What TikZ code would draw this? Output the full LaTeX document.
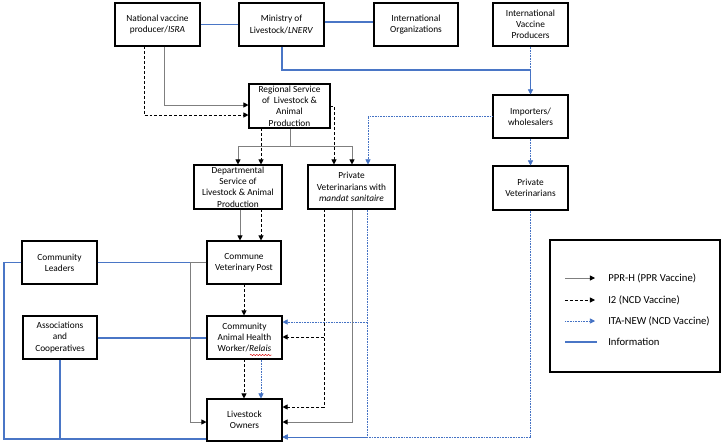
\documentclass[tikz,border=0pt]{standalone}
\usepackage{fontspec}
\setmainfont{Carlito}
\usetikzlibrary{arrows.meta,decorations.pathmorphing}
\definecolor{infoblue}{HTML}{4A76C6}
\definecolor{itablue}{HTML}{4472C4}
\definecolor{pprgray}{HTML}{7F7F7F}
\begin{document}
\begin{tikzpicture}[x=0.75pt,y=-0.75pt,
  box/.style={draw=black, line width=0.8pt, fill=white, align=center, font=\fontsize{7}{8.4}\selectfont, inner sep=0pt},
  wh/.style 2 args={minimum width=#1*0.75pt, minimum height=#2*0.75pt},
  ppr/.style={draw=pprgray, line width=0.7pt, -{Triangle[length=3.8pt,width=3.8pt,color=black]}},
  itwo/.style={draw=black, line width=0.7pt, dash pattern=on 2.2pt off 1.5pt, -{Triangle[length=3.8pt,width=3.8pt]}},
  ita/.style={draw=itablue, line width=0.5pt, dash pattern=on 0.7pt off 0.5pt, -{Triangle[length=3.8pt,width=3.8pt,color=itablue]}},
  info/.style={draw=infoblue, line width=0.85pt},
  legtext/.style={anchor=west, font=\fontsize{8}{9.6}\selectfont, inner sep=0pt}
]
\useasboundingbox (0,0) rectangle (728,444);
\fill[white] (0,0) rectangle (728,444);

% boxes
\node[box, wh={85}{43}] (nvp) at (157.5,24.5) {National vaccine\\producer/\textit{ISRA}};
\node[box, wh={85}{43}] (min) at (281.5,24.5) {Ministry of\\Livestock/\textit{LNERV}};
\node[box, wh={84}{43}] (io) at (416,24.5) {International\\Organizations};
\node[box, wh={75}{43}] (ivp) at (530.5,24.5) {International\\Vaccine\\Producers};
\node[box, wh={75}{43}] (imp) at (530.5,116.5) {Importers/\\wholesalers};
\node[box, wh={75}{44}] (pv) at (530.5,188) {Private\\Veterinarians};
\node[box, wh={81}{44}] (rs) at (289.5,106) {Regional Service\\of\ \ Livestock \&\\Animal\\Production};
\node[box, wh={88}{44}] (ds) at (238,187) {Departmental\\Service of\\Livestock \& Animal\\Production};
\node[box, wh={87}{44}] (pvm) at (351.5,187) {Private\\Veterinarians with\\\textit{mandat sanitaire}};
\node[box, wh={74}{43}] (cvp) at (244,262.5) {Commune\\Veterinary Post};
\node[box, wh={75}{43}] (cl) at (59.5,262.5) {Community\\Leaders};
\node[box, wh={74}{43}] (ac) at (60,337.5) {Associations\\and\\Cooperatives};
\node[box, wh={75}{43}] (cahw) at (244.5,337.5) {Community\\Animal Health\\Worker/\textit{Relais}};
\node[box, wh={75}{42}] (lo) at (244.5,420) {Livestock\\Owners};
\draw[red!85!black, line width=0.35pt, decorate, decoration={snake, amplitude=0.45pt, segment length=2.2pt}] (250,355) -- (272,355);

% information lines
\draw[info] (nvp) -- (min);
\draw[info] (min.east |- 0,22) -- (io.west |- 0,22);
\draw[info] (min.south -| 282,0) -- (282,70) -- (530.5,70) -- (imp.north);
\draw[info] (cl) -- (cvp);
\draw[info] (cl.west) -| (4,439) -- (lo.west |- 0,439);
\draw[info] (ac.south -| 60,0) -- (60,439);
\draw[info] (ac.east |- 0,338) -- (cahw.west |- 0,338);

% ITA-NEW (dotted blue)
\draw[ita] (ivp) -- (imp);
\draw[ita] (imp) -- (pv);
\draw[ita] (imp.west) -| (pvm.north -| 368,0);
\draw[ita] (pvm.south -| 367,0) |- (lo.east |- 0,437);
\draw[ita] (367,322) -- (cahw.east |- 0,322);
\draw[ita] (pv.south) |- (lo.east |- 0,437);
\draw[ita] (cahw.south -| 261,0) -- (lo.north -| 261,0);

% PPR-H (solid grey)
\draw[ppr] (nvp.south -| 164,0) |- (rs.west |- 0,105);
\draw[ppr,-] (rs.south -| 290,0) -- (290,146);
\draw[ppr] (290,146) -| (ds.north -| 238,0);
\draw[ppr] (290,146) -| (pvm.north -| 352,0);
\draw[ppr] (ds.south -| 240,0) -- (cvp.north -| 240,0);
\draw[ppr] (cvp.west) -- (190,262.5) |- (lo.west |- 0,422);
\draw[ppr] (pvm.south -| 352,0) |- (lo.east |- 0,422);

% I2 (dashed black)
\draw[itwo] (nvp.south -| 144,0) |- (rs.west |- 0,115);
\draw[itwo] (rs.south -| 261,0) -- (ds.north -| 261,0);
\draw[itwo] (rs.east |- 0,106) -| (pvm.north -| 334,0);
\draw[itwo] (ds.south -| 261,0) -- (cvp.north -| 261,0);
\draw[itwo] (cvp.south -| 244,0) -- (cahw.north -| 244,0);
\draw[itwo] (cahw.south -| 244,0) -- (lo.north -| 244,0);
\draw[itwo] (pvm.south -| 324,0) |- (lo.east |- 0,407);
\draw[itwo] (324,337) -- (cahw.east |- 0,337);

% legend
\node[draw=black, line width=0.8pt, minimum width=170*0.75pt, minimum height=132*0.75pt, inner sep=0pt] (leg) at (635,306) {};
\coordinate (la1) at (565,278); \coordinate (lb1) at (595,278);
\coordinate (la2) at (565,300); \coordinate (lb2) at (595,300);
\coordinate (la3) at (565,321); \coordinate (lb3) at (595,321);
\coordinate (la4) at (565,342); \coordinate (lb4) at (597,342);
\draw[ppr] (la1) -- (lb1);
\draw[itwo] (la2) -- (lb2);
\draw[ita] (la3) -- (lb3);
\draw[info] (la4) -- (lb4);
\node[legtext] (t1) at (608,278) {PPR-H (PPR Vaccine)};
\node[legtext] (t2) at (608,300) {I2 (NCD Vaccine)};
\node[legtext] (t3) at (608,321) {ITA-NEW (NCD Vaccine)};
\node[legtext] (t4) at (608,342) {Information};
\end{tikzpicture}
\end{document}
